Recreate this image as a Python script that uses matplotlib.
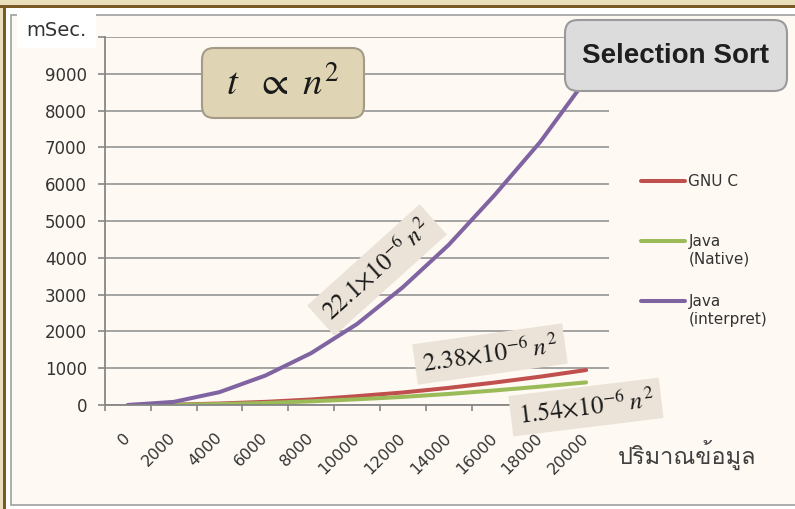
import matplotlib
matplotlib.use("Agg")
import matplotlib.pyplot as plt
from matplotlib import font_manager
from matplotlib.ft2font import FT2Font
from matplotlib.patches import FancyBboxPatch

# data
sizes = [0, 2000, 4000, 6000, 8000, 10000, 12000, 14000, 16000, 18000, 20000]
gnu_c = [0, 10, 40, 85, 150, 240, 340, 465, 610, 770, 950]
java_native = [0, 6, 25, 55, 100, 155, 220, 300, 395, 500, 615]
java_interp = [0, 85, 350, 800, 1410, 2200, 3200, 4350, 5700, 7150, 8850]
series_names = ["GNU C", "Java", "Java"]
series_notes = ["", "(Native)", "(interpret)"]
y_ticks = list(range(0, 10001, 1000))

W, H = 795, 509
plt.rcParams["mathtext.fontset"] = "stix"


def find_font(ch, default="DejaVu Sans"):
    """Return the first installed family that has a glyph for ch."""
    for f in font_manager.fontManager.ttflist:
        try:
            if ord(ch) in FT2Font(f.fname).get_charmap():
                return f.name
        except Exception:
            continue
    return default


def fx(x):
    return x / W


def fy(y):
    return 1 - y / H


def px_box(fig, x0, y0, x1, y1, style="square,pad=0", **kw):
    """Box given in pixel coords (origin top-left), drawn in inches."""
    p = FancyBboxPatch((x0 / 100, (H - y1) / 100), (x1 - x0) / 100,
                       (y1 - y0) / 100, boxstyle=style,
                       transform=fig.dpi_scale_trans, **kw)
    fig.add_artist(p)
    return p


fig = plt.figure(figsize=(W / 100, H / 100), dpi=100, facecolor="white")

# slide frame and chart area
px_box(fig, 0, 0, W, 5, fc="#EADFBD", ec="none", zorder=-3)
px_box(fig, 0, 5, W, 7.5, fc="#7A5A24", ec="none", zorder=-2)
px_box(fig, 0, 0, 3, H, fc="#EADFBD", ec="none", zorder=-3)
px_box(fig, 3, 5, 5.5, H, fc="#7A5A24", ec="none", zorder=-2)
px_box(fig, 10.5, 15, W + 5, 504.5, fc="#FEF9F3", ec="#A0A0A0", lw=1.2, zorder=-1)

ax = fig.add_axes([fx(105), fy(405), 504 / W, 368 / H])
ax.set_facecolor("none")

x = list(range(len(sizes)))
lines = []
for vals, color in [(gnu_c, "#C0504D"), (java_native, "#9BBB59"), (java_interp, "#8064A2")]:
    ln, = ax.plot(x, vals, color=color, lw=2.9, solid_capstyle="round",
                  solid_joinstyle="round")
    lines.append(ln)

ax.set_xlim(-0.5, len(sizes) - 0.5)
ax.set_ylim(0, 10000)
ax.set_xticks(x)
ax.set_xticklabels([str(s) for s in sizes], rotation=45, ha="right",
                   va="center", rotation_mode="anchor")
ax.set_xticks([i - 0.5 for i in range(len(sizes) + 1)], minor=True)
ax.tick_params(axis="x", which="major", length=0, pad=22, labelsize=11.5,
               labelcolor="#333333")
ax.tick_params(axis="x", which="minor", length=4, width=1.2,
               color="#868686", direction="out")
ax.set_yticks(y_ticks)
ax.set_yticklabels([str(v) if v < 10000 else "" for v in y_ticks])
ax.tick_params(axis="y", length=5, width=1.2, color="#868686", pad=8,
               labelsize=12, labelcolor="#333333")
ax.grid(axis="y", color="#9C9C9C", lw=1.3)
ax.set_axisbelow(True)
for side in ["top", "right"]:
    ax.spines[side].set_visible(False)
for side in ["left", "bottom"]:
    ax.spines[side].set_color("#868686")
    ax.spines[side].set_linewidth(1.3)

leg = ax.legend(lines, series_names, loc="upper left",
                bbox_to_anchor=(fx(641), fy(174)), bbox_transform=fig.transFigure,
                frameon=False, fontsize=11, handlelength=2.9, handletextpad=0.2,
                labelspacing=2.95, borderpad=0, borderaxespad=0)
for txt, note in zip(leg.get_texts(), series_notes):
    txt.set_color("#333333")
    if note:
        ax.annotate(note, xy=(0, 0), xycoords=txt, xytext=(0, -2),
                    textcoords="offset points", va="top", ha="left",
                    fontsize=11, color="#333333", annotation_clip=False, zorder=6)

# y unit label
px_box(fig, 17, 14, 96, 48, fc="white", ec="none", zorder=5)
fig.text(fx(56), fy(31), "mSec.", ha="center", va="center", fontsize=14,
         color="#333333", zorder=6)

# x axis title (Thai)
thai_font = find_font("ป")
fig.text(fx(687), fy(455), "ปริมาณข้อมูล", ha="center", va="center",
         fontsize=17, color="#404040", family=[thai_font, "DejaVu Sans"])

# t ~ n^2 box
px_box(fig, 202, 48, 364, 118, style="round,pad=0,rounding_size=0.12",
       fc="#DFD5B4", ec="#A39B88", lw=1.5, zorder=5)
fig.text(fx(283), fy(84), r"$t\ \ \propto\ n^{2}$", ha="center", va="center",
         fontsize=28, color="#1a1a1a", zorder=6)

# title box
px_box(fig, 565, 20, 787, 91, style="round,pad=0,rounding_size=0.13",
       fc="#DCDCDC", ec="#9A9A9A", lw=1.5, zorder=5)
fig.text(fx(676), fy(56), "Selection Sort", ha="center", va="center",
         fontsize=20, fontweight="bold", family="Liberation Sans",
         color="#1e1e1e", zorder=6)

# growth-constant labels
label_box = dict(boxstyle="square,pad=0.3", fc="#EBE3D7", ec="none")
for text, cx, cy, ang in [(r"$22.1{\times}10^{-6}\;n^{2}$", 377, 270, 42),
                          (r"$2.38{\times}10^{-6}\;n^{2}$", 490, 354, 8),
                          (r"$1.54{\times}10^{-6}\;n^{2}$", 586, 407, 7)]:
    fig.text(fx(cx), fy(cy), text, rotation=ang, rotation_mode="anchor",
             ha="center", va="center", fontsize=18, color="#1a1a1a",
             bbox=label_box, zorder=6)

fig.savefig("out.png", dpi=100)
